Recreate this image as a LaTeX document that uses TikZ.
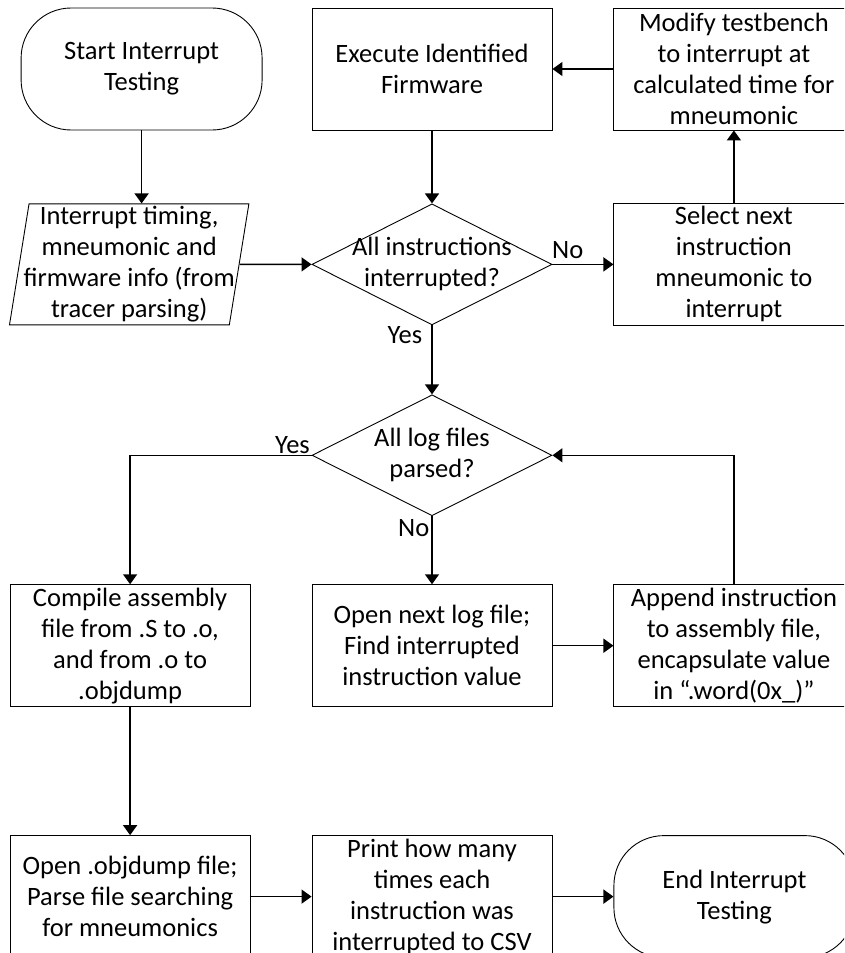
\documentclass[tikz,border=0pt]{standalone}
\usepackage{fontspec}
\setmainfont{Carlito}
\usetikzlibrary{positioning,shapes.geometric,arrows.meta}

\begin{document}
\begin{tikzpicture}[x=1pt,y=-1pt,>={Triangle[length=10pt,width=14pt]},
  font=\fontsize{26.5}{31}\selectfont,
  base/.style={draw,line width=0.9pt,align=center,inner sep=2pt},
  process/.style={base,rectangle,minimum width=240pt,minimum height=122pt},
  term/.style={base,rectangle,rounded corners=50pt,minimum width=241pt,minimum height=122pt},
  io/.style={base,trapezium,trapezium left angle=79,trapezium right angle=101,
    trapezium stretches=true,inner xsep=-30pt,inner ysep=-20pt,
    minimum width=240pt,minimum height=121pt},
  decision/.style={base,diamond,inner xsep=-70pt,inner ysep=-30pt,
    minimum width=240pt,minimum height=121pt},
  line/.style={->,line width=1.5pt},
  lbl/.style={inner sep=2pt}]
  \clip (0,0) rectangle (844,953);
  % top row
  \node[process] (exec) at (432,69) {Execute Identified\\Firmware};
  \node[term]    (start) [left=49pt of exec]  {Start Interrupt\\Testing};
  \node[process] (mod)   [right=61pt of exec] {Modify testbench\\to interrupt at\\calculated time for\\mneumonic};
  % second row
  \node[decision] (dec1)  [below=73pt of exec] {All instructions\\interrupted?};
  \node[io]       (input) [left=72pt of dec1]  {Interrupt timing,\\mneumonic and\\firmware info (from\\tracer parsing)};
  \node[process]  (sel)   [right=61pt of dec1] {Select next\\instruction\\mneumonic to\\interrupt};
  % log file loop
  \node[decision] (dec2) [below=69pt of dec1] {All log files\\parsed?};
  \node[process]  (open) [below=68pt of dec2] {Open next log file;\\Find interrupted\\instruction value};
  \node[process]  (comp) [left=61pt of open]  {Compile assembly\\file from .S to .o,\\and from .o to\\.objdump};
  \node[process]  (app)  [right=61pt of open] {Append instruction\\to assembly file,\\encapsulate value\\in “.word(0x\_)”};
  % bottom row
  \node[process] (parse) [below=128pt of comp]  {Open .objdump file;\\Parse file searching\\for mneumonics};
  \node[process] (print) [right=61pt of parse]  {Print how many\\times each\\instruction was\\interrupted to CSV};
  \node[term]    (endt)  [right=61pt of print]  {End Interrupt\\Testing};

  \draw[line] (start.south) -- (start.south |- input.north);
  \draw[line] (exec) -- (dec1);
  \draw[line] (input) -- (dec1);
  \draw[line] (dec1) -- node[lbl,pos=0,above right,xshift=-3pt,yshift=3pt] {No} (sel);
  \draw[line] (sel) -- (mod);
  \draw[line] (mod) -- (exec);
  \draw[line] (dec1) -- node[lbl,pos=0,below left,xshift=-9pt,inner sep=0pt] {Yes} (dec2);
  \draw[line] (dec2.west) -| node[lbl,pos=0,above left,inner sep=1pt] {Yes} (comp.north);
  \draw[line] (dec2) -- node[lbl,pos=0,below left] {No} (open);
  \draw[line] (open) -- (app);
  \draw[line] (app.north) |- (dec2.east);
  \draw[line] (comp) -- (parse);
  \draw[line] (parse) -- (print);
  \draw[line] (print) -- (endt);
\end{tikzpicture}
\end{document}
